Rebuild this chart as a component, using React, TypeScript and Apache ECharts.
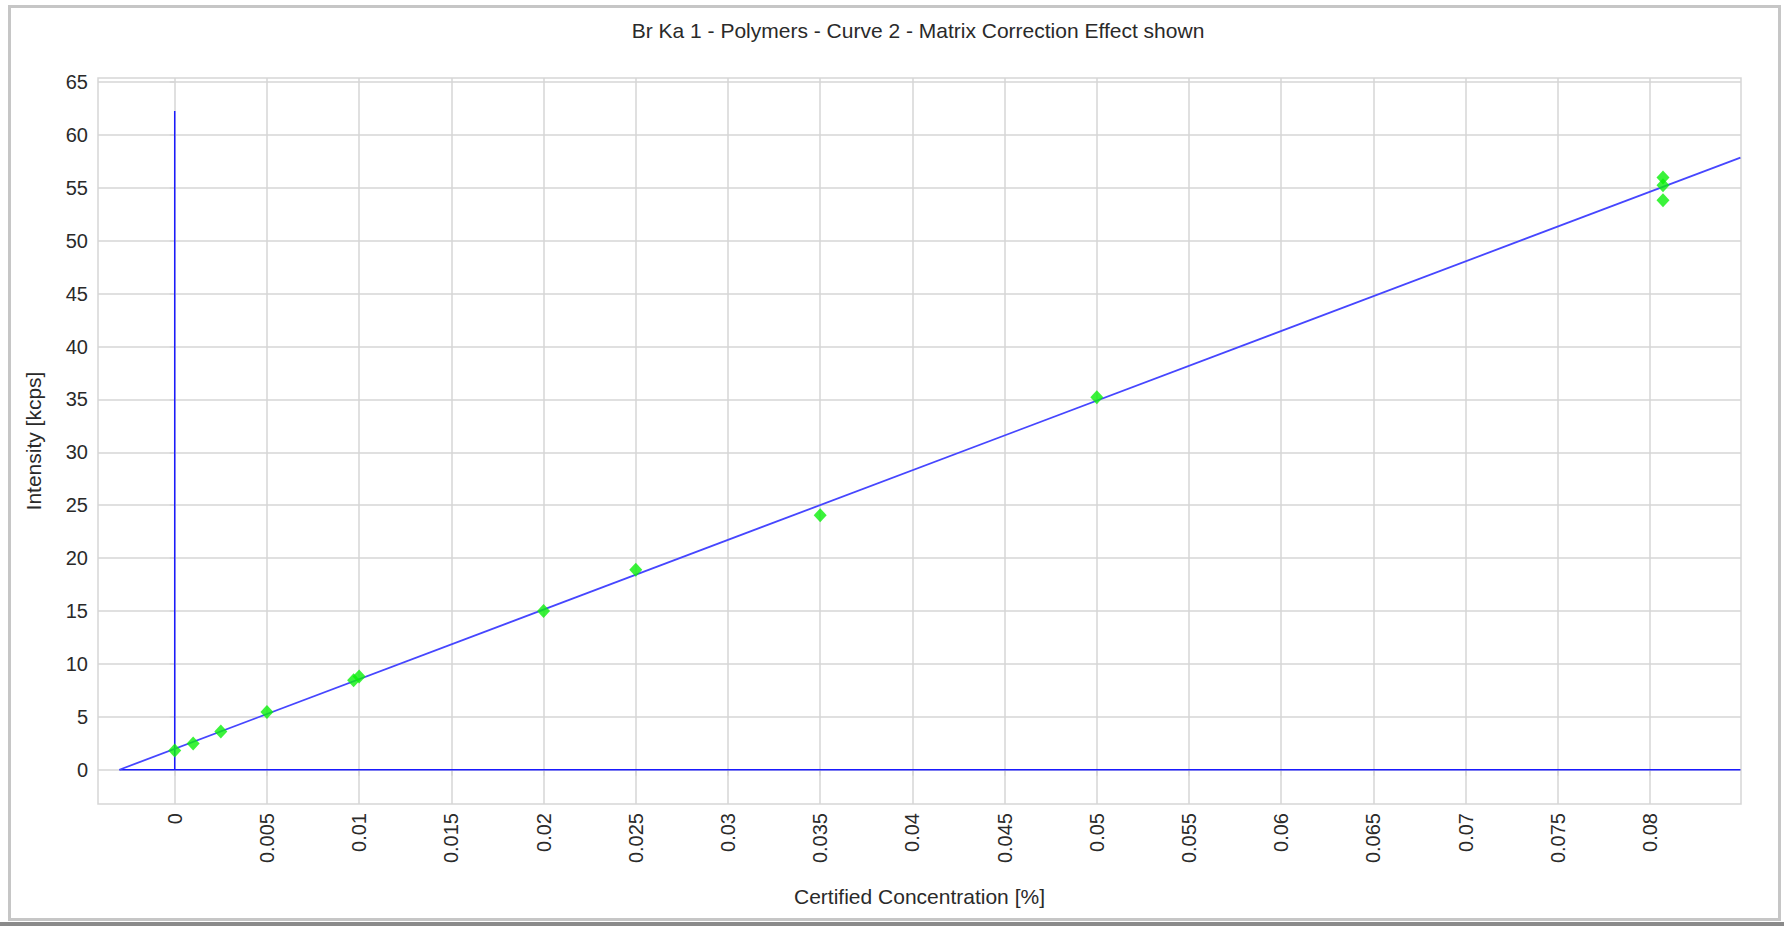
import React, { useEffect, useRef } from "react";
import * as echarts from "echarts";

const titleText = "Br Ka 1 - Polymers - Curve 2 - Matrix Correction Effect shown";
const xAxisName = "Certified Concentration [%]";
const yAxisName = "Intensity [kcps]";

// Standards (certified concentration %, measured intensity kcps)
const concentrations = [0, 0.001, 0.0025, 0.005, 0.0097, 0.01, 0.02, 0.025, 0.035, 0.05, 0.0807, 0.0807, 0.0807];
const intensities = [1.82, 2.48, 3.62, 5.45, 8.45, 8.81, 15.0, 18.9, 24.05, 35.2, 55.97, 55.24, 53.82];

// Calibration curve end points
const fitX = [-0.003, 0.0849];
const fitY = [0, 57.86];

// Zero reference lines
const zeroVerticalY = [0, 62.25];
const zeroHorizontalX = [-0.003, 0.0849];

// Axis ticks
const xTicks = [0, 0.005, 0.01, 0.015, 0.02, 0.025, 0.03, 0.035, 0.04, 0.045, 0.05, 0.055, 0.06, 0.065, 0.07, 0.075, 0.08];
const yTicks = [0, 5, 10, 15, 20, 25, 30, 35, 40, 45, 50, 55, 60, 65];
const xRange = [-0.00416, 0.08493];
const yRange = [-3.24, 65.38];

const FONT = "'Liberation Sans', Arial, sans-serif";
const GRID_COLOR = "#d6d6d6";
const TEXT_COLOR = "#2a2a2a";

export default function App() {
  const ref = useRef<HTMLDivElement>(null);

  useEffect(() => {
    if (!ref.current) return;
    const chart = echarts.init(ref.current, undefined, { renderer: "svg" });
    const points = concentrations.map((c, i) => [c, intensities[i]]);
    const fitLine = fitX.map((x, i) => [x, fitY[i]]);
    const vLine = zeroVerticalY.map((y) => [0, y]);
    const hLine = zeroHorizontalX.map((x) => [x, 0]);

    chart.setOption({
      animation: false,
      backgroundColor: "#ffffff",
      textStyle: { fontFamily: FONT },
      title: {
        text: titleText,
        left: 913,
        textAlign: "center",
        top: 15,
        textStyle: { fontFamily: FONT, fontSize: 21, fontWeight: "normal", color: TEXT_COLOR },
      },
      graphic: [
        {
          type: "rect",
          silent: true,
          shape: { x: 9.5, y: 6.5, width: 1770, height: 913 },
          style: { fill: "none", stroke: "#c6c6c6", lineWidth: 3 },
        },
        {
          type: "rect",
          silent: true,
          shape: { x: 0, y: 922, width: 1784, height: 4 },
          style: { fill: "#8a8a8a" },
        },
      ],
      grid: {
        left: 98,
        top: 78,
        width: 1643,
        height: 726,
        show: true,
        borderColor: GRID_COLOR,
        borderWidth: 1.5,
        backgroundColor: "transparent",
      },
      xAxis: {
        type: "value",
        min: xRange[0],
        max: xRange[1],
        name: xAxisName,
        nameLocation: "middle",
        nameGap: 82,
        nameTextStyle: { fontFamily: FONT, fontSize: 21, color: TEXT_COLOR },
        axisLine: { show: false },
        axisTick: { show: true, length: 6, customValues: xTicks, lineStyle: { color: GRID_COLOR, width: 1.5 } },
        axisLabel: {
          customValues: xTicks,
          rotate: 90,
          margin: 9,
          fontFamily: FONT,
          fontSize: 20,
          color: TEXT_COLOR,
          formatter: (v: number) => String(+v.toFixed(4)),
        },
        splitLine: { show: true, lineStyle: { color: GRID_COLOR, width: 1.5 } },
      },
      yAxis: {
        type: "value",
        min: yRange[0],
        max: yRange[1],
        name: yAxisName,
        nameLocation: "middle",
        nameGap: 54,
        nameTextStyle: { fontFamily: FONT, fontSize: 21, color: TEXT_COLOR },
        axisLine: { show: false },
        axisTick: { show: true, length: 5, customValues: yTicks, lineStyle: { color: GRID_COLOR, width: 1.5 } },
        axisLabel: {
          customValues: yTicks,
          margin: 10,
          fontFamily: FONT,
          fontSize: 20,
          color: TEXT_COLOR,
        },
        splitLine: { show: true, lineStyle: { color: GRID_COLOR, width: 1.5 } },
      },
      series: [
        {
          name: "Zero vertical",
          type: "line",
          data: vLine,
          symbol: "none",
          lineStyle: { color: "#1a1aff", width: 1.5 },
          z: 2,
        },
        {
          name: "Zero horizontal",
          type: "line",
          data: hLine,
          symbol: "none",
          lineStyle: { color: "#1a1aff", width: 1.5 },
          z: 2,
        },
        {
          name: "Calibration",
          type: "line",
          data: fitLine,
          symbol: "none",
          lineStyle: { color: "#4646ff", width: 1.8 },
          z: 3,
        },
        {
          name: "Standards",
          type: "scatter",
          data: points,
          symbol: "diamond",
          symbolSize: [13, 14],
          itemStyle: { color: "#0af00a" },
          z: 4,
        },
      ],
    });
    return () => chart.dispose();
  }, []);

  return (
    <div
      ref={ref}
      style={{ position: "absolute", left: 0, top: 0, width: 1784, height: 926 }}
    />
  );
}
